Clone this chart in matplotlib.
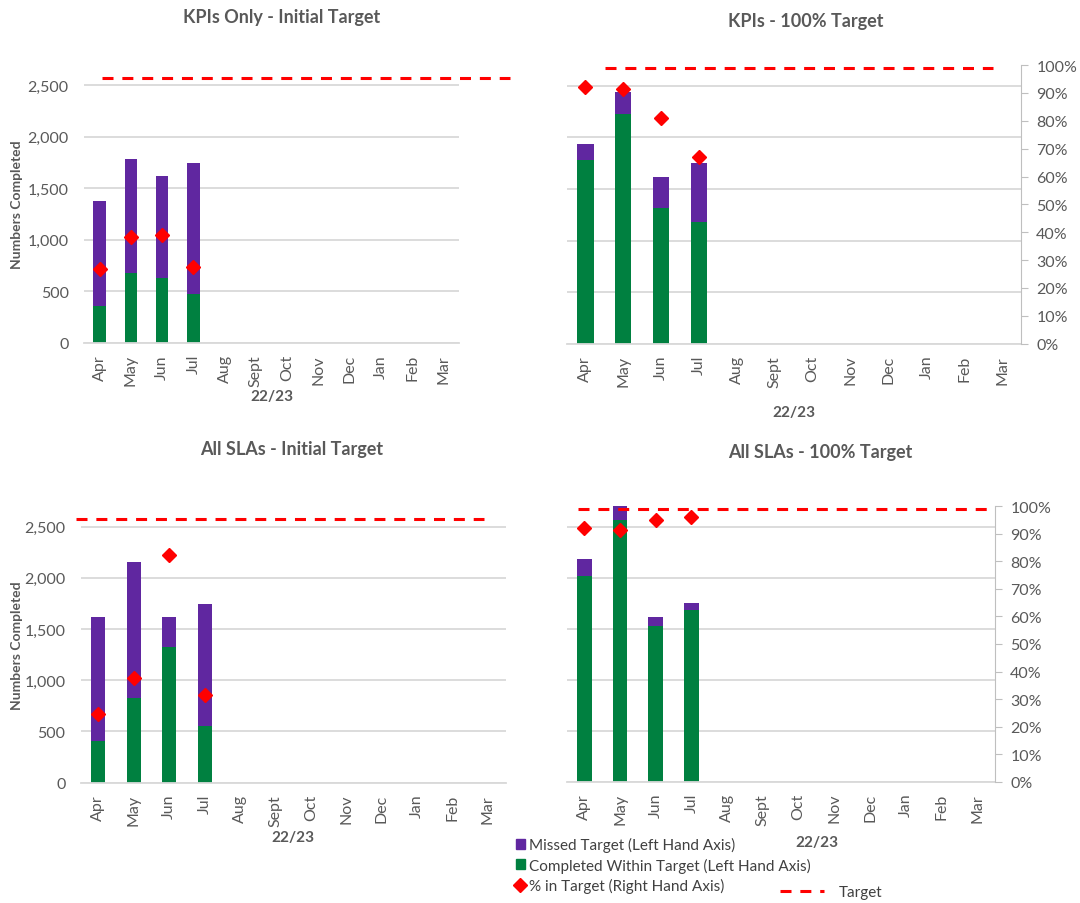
import matplotlib.pyplot as plt
from matplotlib.patches import Patch
from matplotlib.lines import Line2D
from matplotlib.ticker import FuncFormatter

plt.rcParams['font.family'] = ['Lato', 'DejaVu Sans']

months = ['Apr', 'May', 'Jun', 'Jul', 'Aug', 'Sept', 'Oct', 'Nov', 'Dec', 'Jan', 'Feb', 'Mar']

# KPIs only - initial target
kpi_init_within = [362, 678, 627, 472]
kpi_init_missed = [1011, 1108, 991, 1272]
kpi_init_pct = [0.265, 0.38, 0.388, 0.272]
kpi_init_target = 0.95

# KPIs - 100% target
kpi_full_within = [1780, 2227, 1317, 1177]
kpi_full_missed = [157, 210, 296, 573]
kpi_full_pct = [0.92, 0.914, 0.81, 0.67]
kpi_full_target = 0.99

# All SLAs - initial target
sla_init_within = [404, 824, 1328, 557]
sla_init_missed = [1211, 1334, 287, 1188]
sla_init_pct = [0.25, 0.38, 0.822, 0.318]
sla_init_target = 0.953

# All SLAs - 100% target
sla_full_within = [2021, 2562, 1528, 1679]
sla_full_missed = [167, 238, 86, 69]
sla_full_pct = [0.923, 0.915, 0.949, 0.96]
sla_full_target = 0.99

PURPLE = '#6027A0'
GREEN = '#008040'
GREY = '#595959'
DASH = (0, (3.6, 2.9))

fig = plt.figure(figsize=(10.8, 9.04), dpi=100)


def box(left, top, right, bottom):
    # pixel box -> figure fraction
    return [left / 1080, 1 - bottom / 904, (right - left) / 1080, (bottom - top) / 904]


def panel(rect, within, missed, pct, target, span, width, ylab_x, title, title_xy, xlab_xy):
    ax = fig.add_axes(rect)
    x = list(range(len(within)))
    ax.bar(x, within, width, color=GREEN, zorder=2)
    ax.bar(x, missed, width, bottom=within, color=PURPLE, zorder=2)
    ax.set_xlim(-0.5, 11.5)
    ax.set_ylim(0, 2700)
    ax.set_yticks(range(0, 2501, 500))
    ax.yaxis.grid(True, color='#D9D9D9', lw=1.3)
    ax.set_axisbelow(True)
    for s in ['top', 'right', 'left']:
        ax.spines[s].set_visible(False)
    ax.spines['bottom'].set_color('#D9D9D9')
    ax.spines['bottom'].set_linewidth(1.3)
    ax.set_xticks(range(12), months, rotation=90)
    ax.tick_params(axis='x', length=0, pad=8, labelcolor=GREY, labelsize=11.5)
    left_axis = ylab_x is not None
    if left_axis:
        ax.yaxis.set_major_formatter(FuncFormatter(lambda v, p: f'{int(v):,}'))
        ax.tick_params(axis='y', length=0, pad=11, labelcolor=GREY, labelsize=11.5)
        ax.set_ylabel('Numbers Completed', fontsize=10, fontweight='bold', color=GREY)
        ax.yaxis.set_label_coords(ylab_x, 0.5)
        ax.yaxis.label.set_va('center')
    else:
        ax.tick_params(axis='y', length=0, labelleft=False)
    ax.set_xlabel('22/23', fontsize=11, fontweight='bold', color=GREY)
    ax.xaxis.set_label_coords(*xlab_xy)
    ax.xaxis.label.set_va('center')

    ax2 = ax.twinx()
    ax2.set_ylim(0, 1)
    for s in ['top', 'left', 'bottom']:
        ax2.spines[s].set_visible(False)
    if left_axis:
        ax2.spines['right'].set_visible(False)
        ax2.set_yticks([])
    else:
        ax2.spines['right'].set_color('#BFBFBF')
        ax2.set_yticks([i / 10 for i in range(11)])
        ax2.yaxis.set_major_formatter(FuncFormatter(lambda v, p: f'{v:.0%}'))
        ax2.tick_params(axis='y', direction='out', length=5, color='#BFBFBF', pad=6,
                        labelcolor=GREY, labelsize=11.5)
    ax2.plot(x, pct, 'D', color='#FF0000', ms=7.5, clip_on=False, zorder=5)
    ax2.plot(span, [target, target], color='#FF0000', lw=2.2, ls=DASH, clip_on=False)

    fig.text(title_xy[0] / 1080, 1 - title_xy[1] / 904, title, ha='center', va='center',
             fontsize=13, fontweight='bold', color=GREY)


panel(box(84, 65.4, 459, 344), kpi_init_within, kpi_init_missed, kpi_init_pct,
      kpi_init_target, [0.07, 13.13], 0.4, -0.179, 'KPIs Only - Initial Target',
      (281.7, 17), (0.5, -0.189))
panel(box(566.5, 66.1, 1021, 344.7), kpi_full_within, kpi_full_missed, kpi_full_pct,
      kpi_full_target, [0.51, 10.75], 0.43, None, 'KPIs - 100% Target',
      (806, 21), (0.5, -0.245))
panel(box(80.7, 507.2, 505.7, 783.7), sla_init_within, sla_init_missed, sla_init_pct,
      sla_init_target, [-0.63, 10.89], 0.4, -0.15, 'All SLAs - Initial Target',
      (292, 450), (0.5, -0.197))
panel(box(566.5, 507.3, 995, 782.7), sla_full_within, sla_full_missed, sla_full_pct,
      sla_full_target, [-0.18, 11.5], 0.41, None, 'All SLAs - 100% Target',
      (820, 453), (0.584, -0.218))

handles = [Patch(color=PURPLE), Patch(color=GREEN),
           Line2D([], [], marker='D', color='#FF0000', ls='none', ms=7)]
labels = ['Missed Target (Left Hand Axis)', 'Completed Within Target (Left Hand Axis)',
          '% in Target (Right Hand Axis)']
fig.legend(handles, labels, loc='center left', bbox_to_anchor=(508 / 1080, 1 - 866 / 904),
           frameon=False, fontsize=11, handlelength=0.6, handleheight=0.6,
           handletextpad=0.3, labelspacing=0.35, labelcolor='#404040', borderpad=0)
fig.legend([Line2D([], [], color='#FF0000', lw=2.2, ls=DASH)], ['Target'], loc='center left',
           bbox_to_anchor=(772 / 1080, 1 - 893 / 904), frameon=False, fontsize=11,
           handlelength=2.9, handletextpad=1.0, labelcolor='#404040', borderpad=0)

fig.savefig('out.png', dpi=100)
